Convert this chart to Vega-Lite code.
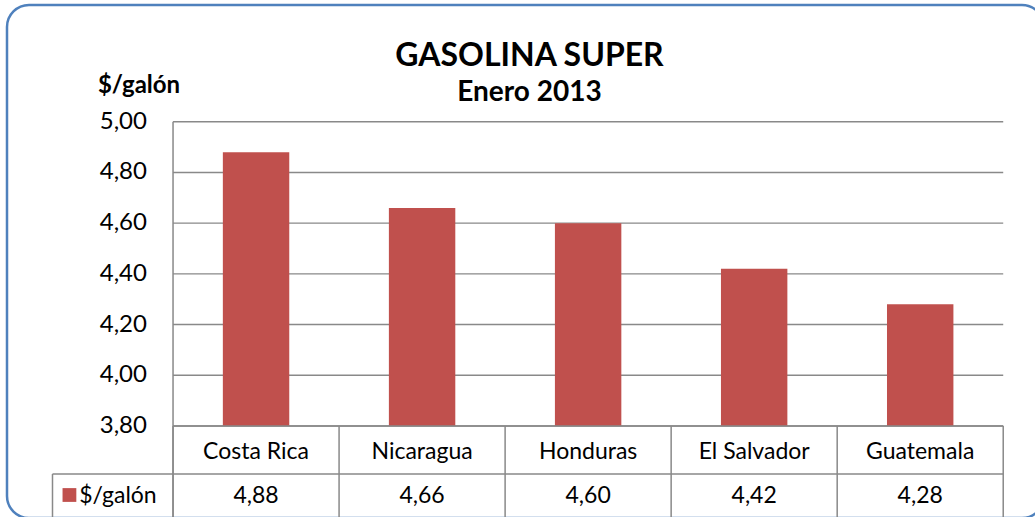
{
  "$schema": "https://vega.github.io/schema/vega-lite/v6.json",
  "width": 1037,
  "height": 513,
  "autosize": {"type": "none"},
  "padding": {"left": 7, "top": 5, "right": -9, "bottom": -1},
  "background": "white",
  "title": {
    "text": "GASOLINA SUPER",
    "subtitle": "Enero 2013",
    "anchor": "middle",
    "frame": "group",
    "offset": -103,
    "dx": 4,
    "font": "Lato",
    "fontSize": 32,
    "fontWeight": "bold",
    "color": "black",
    "subtitleFont": "Lato",
    "subtitleFontSize": 28,
    "subtitleFontWeight": "bold",
    "subtitleColor": "black",
    "subtitlePadding": 6
  },
  "data": {
    "values": [
      {"country": "Costa Rica", "price": 4.88},
      {"country": "Nicaragua", "price": 4.66},
      {"country": "Honduras", "price": 4.60},
      {"country": "El Salvador", "price": 4.42},
      {"country": "Guatemala", "price": 4.28}
    ]
  },
  "layer": [
    {
      "data": {"values": [{"v": 3.8}, {"v": 4.0}, {"v": 4.2}, {"v": 4.4}, {"v": 4.6}, {"v": 4.8}, {"v": 5.0}]},
      "mark": {"type": "rule", "color": "#898989", "strokeWidth": 1.4},
      "encoding": {
        "y": {"field": "v", "type": "quantitative", "axis": null},
        "x": {"datum": "Costa Rica", "bandPosition": 0, "axis": null},
        "x2": {"datum": "Guatemala", "bandPosition": 1}
      }
    },
    {
      "data": {"values": [{"v": 3.8}, {"v": 4.0}, {"v": 4.2}, {"v": 4.4}, {"v": 4.6}, {"v": 4.8}, {"v": 5.0}]},
      "mark": {"type": "text", "fontSize": 24, "color": "black", "baseline": "middle", "align": "right"},
      "encoding": {
        "y": {"field": "v", "type": "quantitative", "axis": null},
        "x": {"datum": "_L", "bandPosition": 0.843, "axis": null},
        "text": {"field": "v", "type": "quantitative", "format": ".2f"}
      }
    },
    {
      "data": {"values": [{}]},
      "mark": {"type": "text", "fontSize": 24, "fontWeight": "bold", "color": "black", "baseline": "alphabetic", "align": "center"},
      "encoding": {
        "x": {"datum": "_L", "bandPosition": 0.795, "axis": null},
        "y": {"datum": 5.1132, "axis": null},
        "text": {"value": "$/galón"}
      }
    },
    {
      "mark": {"type": "bar", "color": "#C0504D", "width": {"band": 0.4}},
      "encoding": {
        "x": {
          "field": "country",
          "type": "nominal",
          "sort": null,
          "axis": null,
          "scale": {
            "domain": ["_L", "Costa Rica", "Nicaragua", "Honduras", "El Salvador", "Guatemala"],
            "paddingInner": 0,
            "paddingOuter": 0.1228,
            "align": 0
          }
        },
        "y": {
          "field": "price",
          "type": "quantitative",
          "scale": {"domain": [3.4371, 5.4604], "nice": false, "zero": false},
          "axis": null
        },
        "y2": {"datum": 3.8}
      }
    },
    {
      "mark": {"type": "rule", "color": "#898989", "strokeWidth": 1.5},
      "encoding": {
        "x": {"field": "country", "type": "nominal", "bandPosition": 0, "axis": null},
        "y": {"datum": 3.8, "axis": null},
        "y2": {"datum": 3.4371}
      }
    },
    {
      "data": {"values": [{}]},
      "mark": {"type": "rule", "color": "#898989", "strokeWidth": 1.5},
      "encoding": {
        "x": {"datum": "Costa Rica", "bandPosition": 0, "axis": null},
        "y": {"datum": 5.0, "axis": null},
        "y2": {"datum": 3.4371}
      }
    },
    {
      "data": {"values": [{}]},
      "mark": {"type": "rule", "color": "#898989", "strokeWidth": 1.5},
      "encoding": {
        "x": {"datum": "Guatemala", "bandPosition": 1, "axis": null},
        "y": {"datum": 3.8, "axis": null},
        "y2": {"datum": 3.4371}
      }
    },
    {
      "data": {"values": [{}]},
      "mark": {"type": "rule", "color": "#898989", "strokeWidth": 1.5},
      "encoding": {
        "x": {"datum": "Costa Rica", "bandPosition": 0, "axis": null},
        "x2": {"datum": "Guatemala", "bandPosition": 1},
        "y": {"datum": 3.8, "axis": null}
      }
    },
    {
      "data": {"values": [{}]},
      "mark": {"type": "rule", "color": "#898989", "strokeWidth": 1.5},
      "encoding": {
        "x": {"datum": "_L", "bandPosition": 0.274, "axis": null},
        "x2": {"datum": "Guatemala", "bandPosition": 1},
        "y": {"datum": 3.6107, "axis": null}
      }
    },
    {
      "data": {"values": [{}]},
      "mark": {"type": "rule", "color": "#898989", "strokeWidth": 1.5},
      "encoding": {
        "x": {"datum": "_L", "bandPosition": 0.274, "axis": null},
        "y": {"datum": 3.6107, "axis": null},
        "y2": {"datum": 3.4371}
      }
    },
    {
      "mark": {"type": "text", "fontSize": 23, "color": "black", "baseline": "middle", "align": "center"},
      "encoding": {
        "x": {"field": "country", "type": "nominal", "axis": null},
        "y": {"datum": 3.6974, "axis": null},
        "text": {"field": "country"}
      }
    },
    {
      "mark": {"type": "text", "fontSize": 23, "color": "black", "baseline": "middle", "align": "center"},
      "encoding": {
        "x": {"field": "country", "type": "nominal", "axis": null},
        "y": {"datum": 3.5219, "axis": null},
        "text": {"field": "price", "type": "quantitative", "format": ".2f"}
      }
    },
    {
      "data": {"values": [{}]},
      "mark": {"type": "point", "shape": "square", "filled": true, "color": "#C0504D", "size": 190, "opacity": 1},
      "encoding": {
        "x": {"datum": "_L", "bandPosition": 0.376, "axis": null},
        "y": {"datum": 3.5278, "axis": null}
      }
    },
    {
      "data": {"values": [{}]},
      "mark": {"type": "text", "fontSize": 23, "color": "black", "baseline": "middle", "align": "left"},
      "encoding": {
        "x": {"datum": "_L", "bandPosition": 0.435, "axis": null},
        "y": {"datum": 3.5219, "axis": null},
        "text": {"value": "$/galón"}
      }
    }
  ],
  "config": {
    "font": "Lato",
    "view": {"stroke": "#4F81BD", "strokeWidth": 2.5, "cornerRadius": 22, "fill": "white"},
    "locale": {
      "number": {"decimal": ",", "thousands": ".", "grouping": [3], "currency": ["$", ""]}
    }
  }
}
